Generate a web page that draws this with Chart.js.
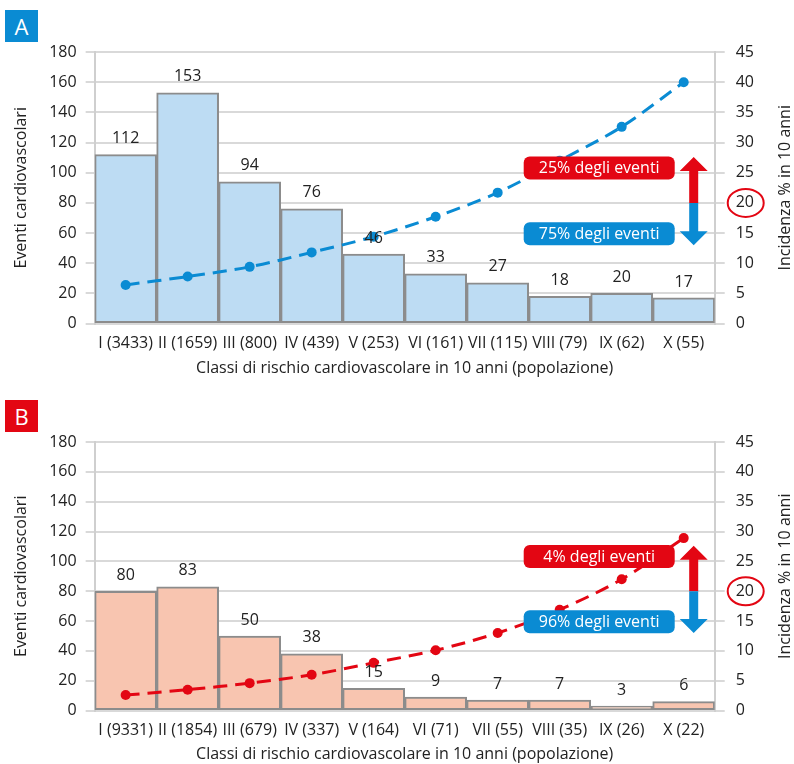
<!DOCTYPE html>
<html lang="it">
<head>
<meta charset="utf-8">
<script src="https://cdn.jsdelivr.net/npm/chart.js@4.4.1/dist/chart.umd.min.js"></script>
<style>
  html, body { margin: 0; padding: 0; background: #fff; overflow: hidden; }
  #wrap { position: relative; width: 794px; height: 764px; }
  .box { position: absolute; left: 0; width: 794px; }
  .badge {
    position: absolute; left: 5px; width: 33px; height: 32px;
    color: #fff; font: 22px "Open Sans", sans-serif; line-height: 32px; text-align: center;
  }
</style>
</head>
<body>
<div id="wrap">
  <div class="box" style="top:0;height:384px"><canvas id="graficoA"></canvas></div>
  <div class="box" style="top:389px;height:375px"><canvas id="graficoB"></canvas></div>
  <div class="badge" style="top:10px;background:#0a8bd3">A</div>
  <div class="badge" style="top:400px;background:#e30613">B</div>
</div>
<script>
// Classi di rischio (popolazione) ed eventi osservati
const classiA = ['I (3433)', 'II (1659)', 'III (800)', 'IV (439)', 'V (253)', 'VI (161)', 'VII (115)', 'VIII (79)', 'IX (62)', 'X (55)'];
const eventiA = [112, 153, 94, 76, 46, 33, 27, 18, 20, 17];
const incidenzaA = [6.4, 7.8, 9.4, 11.8, 14.4, 17.7, 21.7, 27.0, 32.6, 40.0];

const classiB = ['I (9331)', 'II (1854)', 'III (679)', 'IV (337)', 'V (164)', 'VI (71)', 'VII (55)', 'VIII (35)', 'IX (26)', 'X (22)'];
const eventiB = [80, 83, 50, 38, 15, 9, 7, 7, 3, 6];
const incidenzaB = [2.6, 3.5, 4.6, 6.0, 8.0, 10.1, 13.0, 16.9, 22.0, 28.9];

const etichetteA = ['25% degli eventi', '75% degli eventi'];
const etichetteB = ['4% degli eventi', '96% degli eventi'];
const soglia = 20;

const ROSSO = '#e30613';
const BLU = '#0a8bd3';
const FONT = '"Open Sans", sans-serif';
const TESTO = '#222';

function roundRect(ctx, x, y, w, h, r) {
    ctx.beginPath();
    ctx.moveTo(x + r, y);
    ctx.arcTo(x + w, y, x + w, y + h, r);
    ctx.arcTo(x + w, y + h, x, y + h, r);
    ctx.arcTo(x, y + h, x, y, r);
    ctx.arcTo(x, y, x + w, y, r);
    ctx.closePath();
}

// numeri sopra le barre
const valoriBarre = {
    id: 'valoriBarre',
    afterDatasetsDraw(chart) {
        const ctx = chart.ctx;
        const meta = chart.getDatasetMeta(0);
        const dati = chart.data.datasets[0].data;
        ctx.save();
        ctx.font = '16px ' + FONT;
        ctx.fillStyle = TESTO;
        ctx.textAlign = 'center';
        ctx.textBaseline = 'middle';
        meta.data.forEach((bar, i) => {
            ctx.fillText(dati[i], bar.x, bar.y - 16);
        });
        ctx.restore();
    }
};

// riquadri, freccia e cerchio sulla soglia del 20%
const soglie = {
    id: 'soglie',
    afterDatasetsDraw(chart, args, opts) {
        const ctx = chart.ctx;
        const area = chart.chartArea;
        const y2 = chart.scales.y2;
        const ySoglia = y2.getPixelForValue(soglia);
        ctx.save();

        // etichette
        const bx = area.right - 191, bw = 151, bh = 23;
        [[opts.testi[0], 25.8, ROSSO], [opts.testi[1], 14.9, BLU]].forEach(([t, v, c]) => {
            const cy = y2.getPixelForValue(v);
            ctx.fillStyle = c;
            roundRect(ctx, bx, cy - bh / 2, bw, bh, 6);
            ctx.fill();
            ctx.fillStyle = '#fff';
            ctx.font = '16px ' + FONT;
            ctx.textAlign = 'center';
            ctx.textBaseline = 'middle';
            ctx.fillText(t, bx + bw / 2, cy + 1);
        });

        // freccia doppia
        const ax = area.right - 21;
        const top = y2.getPixelForValue(27.6);
        const bot = y2.getPixelForValue(13.0);
        const hw = 14, sw = 4.5, hh = 14;
        ctx.fillStyle = ROSSO;
        ctx.beginPath();
        ctx.moveTo(ax, top);
        ctx.lineTo(ax + hw, top + hh);
        ctx.lineTo(ax + sw, top + hh);
        ctx.lineTo(ax + sw, ySoglia);
        ctx.lineTo(ax - sw, ySoglia);
        ctx.lineTo(ax - sw, top + hh);
        ctx.lineTo(ax - hw, top + hh);
        ctx.closePath();
        ctx.fill();
        ctx.fillStyle = BLU;
        ctx.beginPath();
        ctx.moveTo(ax, bot);
        ctx.lineTo(ax + hw, bot - hh);
        ctx.lineTo(ax + sw, bot - hh);
        ctx.lineTo(ax + sw, ySoglia);
        ctx.lineTo(ax - sw, ySoglia);
        ctx.lineTo(ax - sw, bot - hh);
        ctx.lineTo(ax - hw, bot - hh);
        ctx.closePath();
        ctx.fill();

        // cerchio sul 20
        ctx.strokeStyle = ROSSO;
        ctx.lineWidth = 2;
        ctx.beginPath();
        ctx.ellipse(area.right + 31, ySoglia, 18, 14, 0, 0, Math.PI * 2);
        ctx.stroke();

        // titolo asse destro
        ctx.fillStyle = TESTO;
        ctx.font = '16px ' + FONT;
        ctx.translate(chart.width - 9, (area.top + area.bottom) / 2);
        ctx.rotate(-Math.PI / 2);
        ctx.textAlign = 'center';
        ctx.textBaseline = 'middle';
        ctx.fillText('Incidenza % in 10 anni', 0, 0);
        ctx.restore();
    }
};

function creaGrafico(id, classi, eventi, incidenza, fondo, colore, testi, spazi) {
    const ctx = document.getElementById(id).getContext('2d');
    const font = { family: FONT, size: 16 };

    return new Chart(ctx, {
        data: {
            labels: classi,
            datasets: [{
                type: 'bar',
                data: eventi,
                yAxisID: 'y',
                backgroundColor: fondo,
                borderColor: '#8c8c8c',
                borderWidth: 2,
                borderSkipped: false,
                barPercentage: 1,
                categoryPercentage: 1,
                order: 2
            }, {
                type: 'line',
                data: incidenza,
                yAxisID: 'y2',
                borderColor: colore,
                borderWidth: 3,
                borderDash: [14, 8],
                tension: 0.3,
                pointRadius: 5,
                pointBackgroundColor: colore,
                pointBorderWidth: 0,
                order: 1
            }]
        },
        options: {
            responsive: true,
            maintainAspectRatio: false,
            animation: false,
            layout: { padding: { top: spazi.top, left: 8, right: 29, bottom: 0 } },
            plugins: {
                legend: { display: false },
                tooltip: { enabled: false },
                soglie: { testi: testi }
            },
            scales: {
                x: {
                    grid: { display: false },
                    border: { display: false },
                    ticks: { color: TESTO, font: font, padding: spazi.tick, maxRotation: 0, autoSkip: false },
                    title: {
                        display: true,
                        text: 'Classi di rischio cardiovascolare in 10 anni (popolazione)',
                        color: TESTO,
                        font: font,
                        padding: { top: spazi.titolo, bottom: spazi.fondo }
                    }
                },
                y: {
                    position: 'left',
                    min: 0,
                    max: 180,
                    ticks: { stepSize: 20, color: TESTO, font: font, padding: 9 },
                    grid: { color: '#d9d9d9', lineWidth: 2, tickLength: 9 },
                    border: { color: '#cfcfcf', width: 2 },
                    title: {
                        display: true,
                        text: 'Eventi cardiovascolari',
                        color: TESTO,
                        font: font,
                        padding: { top: 4, bottom: 9 }
                    }
                },
                y2: {
                    position: 'right',
                    min: 0,
                    max: 45,
                    ticks: { stepSize: 5, color: TESTO, font: font, padding: 11 },
                    grid: { drawOnChartArea: false, color: '#d9d9d9', lineWidth: 2, tickLength: 10 },
                    border: { color: '#cfcfcf', width: 2 }
                }
            }
        },
        plugins: [valoriBarre, soglie]
    });
}

creaGrafico('graficoA', classiA, eventiA, incidenzaA, '#bddcf3', BLU, etichetteA,
    { top: 52, tick: 2, titolo: 4, fondo: 6 });
creaGrafico('graficoB', classiB, eventiB, incidenzaB, '#f8c5b0', ROSSO, etichetteB,
    { top: 53, tick: 2, titolo: 3, fondo: 0 });
</script>
</body>
</html>
